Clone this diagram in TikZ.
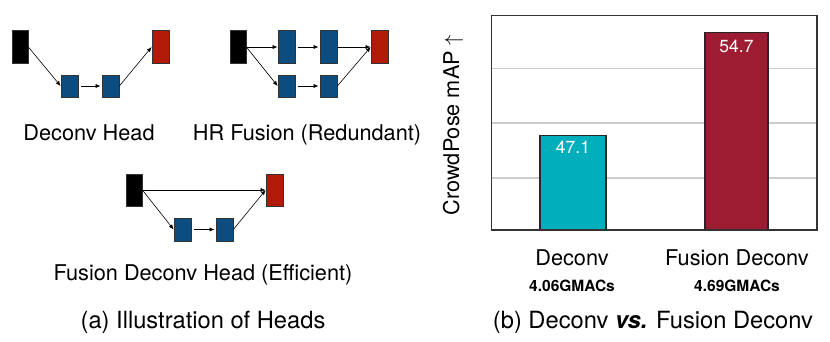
\documentclass[tikz,border=0pt]{standalone}
\usepackage{fontspec}
\setmainfont{TeX Gyre Heros}
\usetikzlibrary{arrows.meta}
\definecolor{boxblue}{HTML}{0D4C7E}
\definecolor{boxred}{HTML}{B01A06}
\definecolor{barteal}{HTML}{00AFBB}
\definecolor{barred}{HTML}{9D1C32}
\definecolor{framegray}{HTML}{333333}
\definecolor{gridgray}{HTML}{CCCCCC}
\tikzset{
  blk/.style={draw=black!80, line width=0.7pt, inner sep=0pt, minimum width=16pt},
  tallbox/.style={blk, minimum height=33pt},
  shortbox/.style={blk, minimum height=22pt, minimum width=17pt},
  conn/.style={line width=0.6pt, -{Latex[length=5pt,width=4pt]}},
  gapconn/.style={conn, shorten <=3pt, shorten >=1pt},
  lbl/.style={font=\fontsize{21.7}{25}\selectfont, anchor=base, inner sep=0pt},
  captxt/.style={font=\fontsize{23.7}{27}\selectfont, anchor=base, inner sep=0pt},
  macs/.style={font=\bfseries\fontsize{15.5}{18}\selectfont, anchor=base, inner sep=0pt},
  val/.style={font=\fontsize{17.5}{20}\selectfont, text=white, inner sep=0pt},
  bar/.style={draw=black!85, line width=1.2pt}
}
\begin{document}
\begin{tikzpicture}[x=1pt,y=-1pt]
\useasboundingbox (0,0) rectangle (830,341);
% ---- Deconv Head
\node[tallbox, fill=black] (k1) at (20,47) {};
\node[shortbox, fill=boxblue] (b1) at (69.5,86) {};
\node[shortbox, fill=boxblue] (b2) at (110.5,86) {};
\node[tallbox, fill=boxred, minimum width=17pt] (r1) at (160.5,47) {};
\draw[conn] (k1.east) -- (b1.west);
\draw[gapconn] (b1.east) -- (b2.west);
\draw[conn] (b2.east) -- (r1.west);
\node[lbl] (t1) at (89,140) {Deconv Head};
% ---- HR Fusion
\node[tallbox, fill=black] (k2) at (238,47) {};
\node[tallbox, fill=boxblue, minimum width=17pt] (h1) at (286.5,47) {};
\node[tallbox, fill=boxblue, minimum width=17pt] (h2) at (328.5,47) {};
\node[shortbox, fill=boxblue] (u1) at (286.5,86) {};
\node[shortbox, fill=boxblue] (u2) at (328.5,86) {};
\node[tallbox, fill=boxred, minimum width=17pt] (r2) at (379.5,47) {};
\draw[conn] (k2.east) -- (h1.west);
\draw[conn] (k2.east) -- (u1.west);
\draw[gapconn] (h1.east) -- (h2.west);
\draw[gapconn] (u1.east) -- (u2.west);
\draw[conn] (h2.east) -- (r2.west);
\draw[conn] (u2.east) -- (r2.west);
\node[lbl] (t2) at (307,140) {HR Fusion (Redundant)};
% ---- Fusion Deconv Head
\node[tallbox, fill=black, minimum height=32pt] (k3) at (134,190) {};
\node[shortbox, fill=boxblue, minimum height=23pt] (c1) at (182.5,229.5) {};
\node[shortbox, fill=boxblue, minimum height=23pt] (c2) at (224.5,229.5) {};
\node[tallbox, fill=boxred, minimum height=32pt, minimum width=17pt] (r3) at (274.5,190) {};
\draw[conn] (k3.east) -- (r3.west);
\draw[conn] (k3.east) -- (c1.west);
\draw[gapconn] (c1.east) -- (c2.west);
\draw[conn] (c2.east) -- (r3.west);
\node[lbl] (t3) at (203,280) {Fusion Deconv Head (Efficient)};
\node[captxt] (capa) at (203,328) {(a) Illustration of Heads};
% ---- Bar chart
\foreach \gy in {68.5,123,178}
  \draw[gridgray, line width=1.2pt] (491,\gy) -- (817,\gy);
\node[bar, fill=barteal, minimum width=66pt, minimum height=94pt, inner sep=0pt, anchor=south] (bar1) at (573,230) {};
\node[bar, fill=barred, minimum width=63pt, minimum height=197pt, inner sep=0pt, anchor=south] (bar2) at (736.5,230) {};
\draw[framegray, line width=1.3pt] (491.5,15.5) rectangle (817,230);
\node[val] (v1) at (573,147) {47.1};
\node[val] (v2) at (736.5,46) {54.7};
\node[font=\fontsize{21.7}{25}\selectfont, rotate=90, inner sep=0pt] (ylab) at (453,125) {CrowdPose mAP $\uparrow$};
\node[lbl] (x1) at (572,265) {Deconv};
\node[lbl] (x2) at (737,265) {Fusion Deconv};
\node[macs] (m1) at (572,291) {4.06GMACs};
\node[macs] (m2) at (737,291) {4.69GMACs};
\node[captxt] (capb) at (653,328) {(b) Deconv \textbf{\textit{vs.}} Fusion Deconv};
\end{tikzpicture}
\end{document}
